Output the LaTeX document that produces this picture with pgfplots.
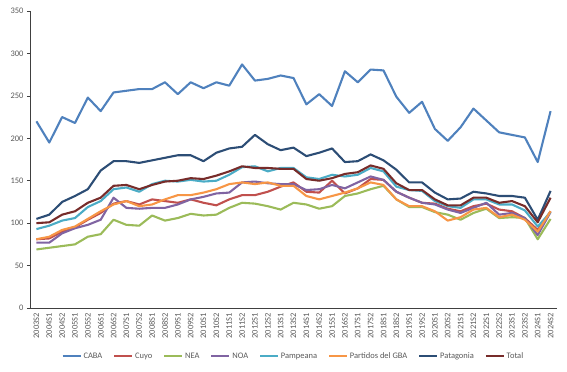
\documentclass[border=0pt]{standalone}
\usepackage{pgfplots}
\usepackage{pgfplotstable}
\pgfplotsset{compat=1.18}
\usepackage{fontspec}
\setmainfont{Carlito}
\definecolor{cCABA}{HTML}{4F81BD}
\definecolor{cCuyo}{HTML}{C0504D}
\definecolor{cNEA}{HTML}{9BBB59}
\definecolor{cNOA}{HTML}{8064A2}
\definecolor{cPamp}{HTML}{4BACC6}
\definecolor{cPart}{HTML}{F79646}
\definecolor{cPat}{HTML}{2C4D75}
\definecolor{cTot}{HTML}{772C2A}
\definecolor{txt}{HTML}{595959}
\definecolor{axl}{HTML}{404040}
\pgfplotstableread{
i CABA Cuyo NEA NOA Pamp Part Pat Total
0 220 81 69 77 93 81 105 100
1 195 82 71 77 97 84 110 101
2 225 90 73 88 103 92 125 110
3 218 95 75 94 106 96 132 114
4 248 104 84 98 119 105 140 124
5 232 112 87 104 126 114 162 130
6 254 123 104 130 140 122 173 144
7 256 126 98 118 142 126 173 145
8 258 122 97 117 137 120 171 140
9 258 128 109 118 146 122 174 145
10 266 126 103 118 150 128 177 149
11 252 124 106 122 149 133 180 150
12 266 128 111 128 151 133 180 153
13 259 124 109 131 149 136 173 152
14 266 121 110 135 150 140 183 156
15 262 128 118 136 157 146 188 161
16 287 133 124 148 166 148 190 167
17 268 133 123 149 167 146 204 165
18 270 137 120 147 161 148 193 165
19 274 143 116 146 165 144 186 164
20 271 148 124 146 165 144 189 164
21 240 137 122 139 154 132 179 152
22 252 136 117 140 152 128 183 150
23 238 150 120 145 157 132 188 153
24 279 135 132 141 155 136 172 158
25 266 141 135 148 157 141 173 160
26 281 152 140 155 165 148 181 168
27 280 151 144 151 161 145 174 164
28 249 137 128 137 143 128 163 147
29 230 130 119 130 139 120 148 139
30 243 124 119 124 138 120 148 139
31 211 123 113 122 126 114 136 128
32 197 117 110 116 120 103 128 121
33 213 114 104 112 118 107 129 121
34 235 120 112 118 128 116 137 130
35 221 123 117 124 128 118 135 130
36 207 116 106 110 122 107 132 124
37 204 114 107 112 122 110 132 126
38 201 106 106 106 115 104 130 120
39 172 92 81 86 96 90 104 101
40 232 114 105 113 113 114 138 130
}\datatable
\begin{document}
\begin{tikzpicture}
\path[use as bounding box] (-30bp,-64bp) rectangle (537bp,308bp);
\begin{axis}[
  at={(0,0)}, anchor=south west,
  scale only axis, width=527bp, height=297bp,
  xmin=-0.5, xmax=40.5, ymin=0, ymax=350,
  axis lines*=left,
  axis line style={axl, line width=0.7pt},
  ytick={0,50,...,350},
  xtick={0,...,40},
  xticklabels={2003S2,2004S1,2004S2,2005S1,2005S2,2006S1,2006S2,2007S1,2007S2,2008S1,2008S2,2009S1,2009S2,2010S1,2010S2,2011S1,2011S2,2012S1,2012S2,2013S1,2013S2,2014S1,2014S2,2015S1,2016S2,2017S1,2017S2,2018S1,2018S2,2019S1,2019S2,2020S1,2020S2,2021S1,2021S2,2022S1,2022S2,2023S1,2023S2,2024S1,2024S2},
  minor xtick={-0.5,0.5,...,40.5},
  tick align=outside,
  x tick label style={rotate=90, anchor=east, font=\fontsize{8.5}{9}\selectfont, text=txt, inner sep=2pt},
  y tick label style={font=\fontsize{8.5}{10}\selectfont, text=txt},
  /pgf/number format/assume math mode=true,
  xtick style={draw=none},
  minor x tick style={axl, line width=0.5pt},
  minor tick length=3bp,
  ytick style={axl, line width=0.5pt},
  major tick length=3bp,
  legend style={at={(0.5,-0.162)}, anchor=center, draw=none, fill=none,
    font=\fontsize{8.5}{10}\selectfont, text=txt, legend columns=8,
    /tikz/every even column/.append style={column sep=9bp}},
  legend image code/.code={\draw[#1, line width=1.8pt] (0bp,0bp) -- (18bp,0bp);},
  every axis plot/.append style={line width=2.1pt, line join=round, no markers},
]
\addplot[cCABA] table[x=i, y=CABA] {\datatable};
\addplot[cCuyo] table[x=i, y=Cuyo] {\datatable};
\addplot[cNEA] table[x=i, y=NEA] {\datatable};
\addplot[cNOA] table[x=i, y=NOA] {\datatable};
\addplot[cPamp] table[x=i, y=Pamp] {\datatable};
\addplot[cPart] table[x=i, y=Part] {\datatable};
\addplot[cPat] table[x=i, y=Pat] {\datatable};
\addplot[cTot] table[x=i, y=Total] {\datatable};
\legend{CABA,Cuyo,NEA,NOA,Pampeana,Partidos del GBA,Patagonia,Total}
\end{axis}
\end{tikzpicture}
\end{document}
